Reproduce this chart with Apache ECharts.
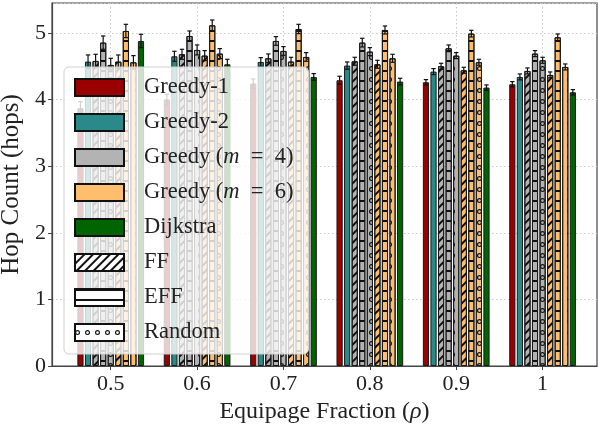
<!DOCTYPE html>
<html>
<head>
<meta charset="utf-8">
<script src="https://cdn.jsdelivr.net/npm/echarts@6/dist/echarts.min.js"></script>
<style>html,body{margin:0;padding:0;background:#fff}#c{width:598px;height:424px}</style>
</head>
<body>
<div id="c"></div>
<script>
// ---- data ----
const categories = ['0.5', '0.6', '0.7', '0.8', '0.9', '1'];
const greedy1   = [3.87, 4.00, 4.24, 4.29, 4.26, 4.23];
const greedy2   = [4.57, 4.65, 4.565, 4.51, 4.42, 4.34];
const g4FF      = [4.58, 4.68, 4.62, 4.575, 4.50, 4.43];
const g4EFF     = [4.855, 4.955, 4.88, 4.855, 4.77, 4.69];
const g4Random  = [4.52, 4.745, 4.73, 4.72, 4.66, 4.59];
const g6FF      = [4.57, 4.66, 4.57, 4.53, 4.44, 4.37];
const g6EFF     = [5.03, 5.115, 5.06, 5.045, 4.99, 4.935];
const g6Random  = [4.56, 4.69, 4.64, 4.62, 4.56, 4.49];
const dijkstra  = [4.88, 4.53, 4.34, 4.27, 4.18, 4.11];

const errGreedy1  = [0.10, 0.08, 0.07, 0.06, 0.04, 0.04];
const errGreedy2  = [0.10, 0.075, 0.065, 0.055, 0.045, 0.045];
const errG4FF     = [0.10, 0.075, 0.065, 0.06, 0.045, 0.045];
const errG4EFF    = [0.10, 0.075, 0.065, 0.065, 0.05, 0.045];
const errG4Random = [0.10, 0.075, 0.065, 0.06, 0.045, 0.045];
const errG6FF     = [0.10, 0.075, 0.065, 0.06, 0.045, 0.045];
const errG6EFF    = [0.10, 0.08, 0.07, 0.06, 0.05, 0.05];
const errG6Random = [0.10, 0.075, 0.065, 0.06, 0.045, 0.045];
const errDijkstra = [0.10, 0.075, 0.05, 0.05, 0.04, 0.04];

const yTicks = [0, 1, 2, 3, 4, 5];
const legendNames = ['Greedy-1', 'Greedy-2', 'Greedy (m = 4)', 'Greedy (m = 6)', 'Dijkstra', 'FF', 'EFF', 'Random'];

// ---- styles ----
const FONT = 'Liberation Serif';
const RED = '#9a0000', TEAL = '#2a8a8a', GRAY = '#b3b3b3', ORANGE = '#ffbe6e', GREEN = '#006400';
const RING = 'path://M0 -10A10 10 0 1 1 0 10A10 10 0 1 1 0 -10ZM0 -5.5A5.5 5.5 0 1 0 0 5.5A5.5 5.5 0 1 0 0 -5.5Z';
const decalFF = { symbol: 'rect', color: '#111', dashArrayX: [1, 0], dashArrayY: [1.1, 3.6], rotation: -Math.PI / 4 };
const decalEFF = { symbol: 'rect', color: '#111', dashArrayX: [1, 0], dashArrayY: [1.4, 8], rotation: 0 };
const decalRand = { symbol: RING, color: '#111', symbolSize: 1, symbolKeepAspect: true, dashArrayX: [4.5, 4], dashArrayY: [4.5, 5.5], rotation: 0 };

const barW = 6.2, gapRatio = 0.22;
const pitch = barW * (1 + gapRatio);

const barDefs = [
  { vals: greedy1, errs: errGreedy1, color: RED, decal: null },
  { vals: greedy2, errs: errGreedy2, color: TEAL, decal: null },
  { vals: g4FF, errs: errG4FF, color: GRAY, decal: decalFF },
  { vals: g4EFF, errs: errG4EFF, color: GRAY, decal: decalEFF },
  { vals: g4Random, errs: errG4Random, color: GRAY, decal: decalRand },
  { vals: g6FF, errs: errG6FF, color: ORANGE, decal: decalFF },
  { vals: g6EFF, errs: errG6EFF, color: ORANGE, decal: decalEFF },
  { vals: g6Random, errs: errG6Random, color: ORANGE, decal: decalRand },
  { vals: dijkstra, errs: errDijkstra, color: GREEN, decal: null }
];

const series = [];
barDefs.forEach((d, si) => {
  const st = { color: d.color, borderColor: '#1a1a1a', borderWidth: 1 };
  if (d.decal) st.decal = d.decal;
  series.push({
    type: 'bar', name: 's' + si, barWidth: barW, barGap: (gapRatio * 100) + '%',
    data: d.vals.map((v, i) => [i, v]),
    itemStyle: st, emphasis: { disabled: true }, z: 2
  });
});

// error bars
const errData = [];
barDefs.forEach((d, si) => d.vals.forEach((v, i) => errData.push([i, si, v, d.errs[i]])));
series.push({
  type: 'custom', name: 'err', data: errData, encode: { x: 0, y: 2 }, z: 3, silent: true,
  renderItem: function (params, api) {
    const xi = api.value(0), si = api.value(1), v = api.value(2), e = api.value(3);
    const top = api.coord([xi, v + e]), bot = api.coord([xi, v - e]);
    const x = top[0] + (si - 4) * pitch;
    const st = { stroke: '#111', lineWidth: 1.2 };
    return { type: 'group', children: [
      { type: 'line', shape: { x1: x, y1: top[1], x2: x, y2: bot[1] }, style: st },
      { type: 'line', shape: { x1: x - 2.2, y1: top[1], x2: x + 2.2, y2: top[1] }, style: st },
      { type: 'line', shape: { x1: x - 2.2, y1: bot[1], x2: x + 2.2, y2: bot[1] }, style: st }
    ] };
  }
});

// legend proxies (hidden grid)
const legendStyles = [
  { color: RED }, { color: TEAL }, { color: GRAY }, { color: ORANGE }, { color: GREEN },
  { color: '#fff', decal: { symbol: 'rect', color: '#111', dashArrayX: [1, 0], dashArrayY: [1.1, 3.8], rotation: -Math.PI / 4 } },
  { color: '#fff', decal: { symbol: 'rect', color: '#111', dashArrayX: [1, 0], dashArrayY: [1.4, 7.4], rotation: 0 } },
  { color: '#fff', decal: { symbol: RING, color: '#111', symbolSize: 1, symbolKeepAspect: true, dashArrayX: [5, 5], dashArrayY: [0, 6, 5, 6], rotation: 0 } }
];
legendNames.forEach((n, k) => {
  series.push({ type: 'bar', name: n, xAxisIndex: 1, yAxisIndex: 1, data: [],
    itemStyle: Object.assign({ borderColor: '#111', borderWidth: 1 }, legendStyles[k]) });
});

const xIdx = categories.map((c, i) => i);
const ITAL = { fontStyle: 'italic', fontFamily: FONT, color: '#222' };

const chart = echarts.init(document.getElementById('c'), null, { renderer: 'canvas' });
chart.setOption({
  animation: false,
  backgroundColor: '#fff',
  textStyle: { fontFamily: FONT },
  grid: [
    { left: 52, right: 1, top: 3, bottom: 58, show: true, borderColor: '#444', borderWidth: 1.2, backgroundColor: 'transparent', outerBoundsMode: 'none', containLabel: false },
    { left: 0, top: 0, width: 1, height: 1, show: false, outerBoundsMode: 'none' }
  ],
  xAxis: [
    {
      type: 'value', min: -0.68, max: 5.63,
      name: 'Equipage Fraction ({it|ρ})', nameLocation: 'middle', nameGap: 29,
      nameTextStyle: { fontFamily: FONT, fontSize: 24, color: '#222', rich: { it: Object.assign({ fontSize: 24 }, ITAL) } },
      axisLine: { show: true, onZero: false, lineStyle: { color: '#444', width: 1.2 } },
      axisTick: { show: true, length: 4, customValues: xIdx, lineStyle: { color: '#444' } },
      axisLabel: { customValues: xIdx, formatter: v => categories[Math.round(v)], fontFamily: FONT, fontSize: 22, color: '#222', margin: 7 },
      splitLine: { show: true, lineStyle: { color: '#c8c8c8', type: [1.5, 2.5], width: 1 } }
    },
    { type: 'category', gridIndex: 1, show: false, data: ['a'] }
  ],
  yAxis: [
    {
      type: 'value', min: 0, max: 5.45, interval: 1,
      name: 'Hop Count (hops)', nameLocation: 'middle', nameGap: 28,
      nameTextStyle: { fontFamily: FONT, fontSize: 25, color: '#222' },
      axisLine: { show: true, onZero: false, lineStyle: { color: '#444', width: 1.2 } },
      axisTick: { show: true, length: 4, lineStyle: { color: '#444' } },
      axisLabel: { showMaxLabel: false, formatter: v => (yTicks.indexOf(v) >= 0 ? String(v) : ''), fontFamily: FONT, fontSize: 22, color: '#222', margin: 6 },
      splitLine: { show: true, lineStyle: { color: '#c8c8c8', type: [1.5, 2.5], width: 1 } }
    },
    { type: 'value', gridIndex: 1, show: false }
  ],
  legend: {
    data: legendNames, orient: 'vertical', left: 64, top: 67,
    padding: [9, 15, 10, 10], itemWidth: 49, itemHeight: 17, itemGap: 12,
    icon: 'rect', selectedMode: false,
    backgroundColor: 'rgba(255,255,255,0.8)', borderColor: '#d0d0d0', borderWidth: 1, borderRadius: 5,
    formatter: n => n.replace('(m = ', '({it|m}\u2002=\u2002'),
    textStyle: { fontFamily: FONT, fontSize: 22.5, color: '#222', padding: [0, 0, 0, 15],
      rich: { it: Object.assign({ fontSize: 22.5 }, ITAL) } },
    z: 10
  },
  series: series
});
</script>
</body>
</html>
